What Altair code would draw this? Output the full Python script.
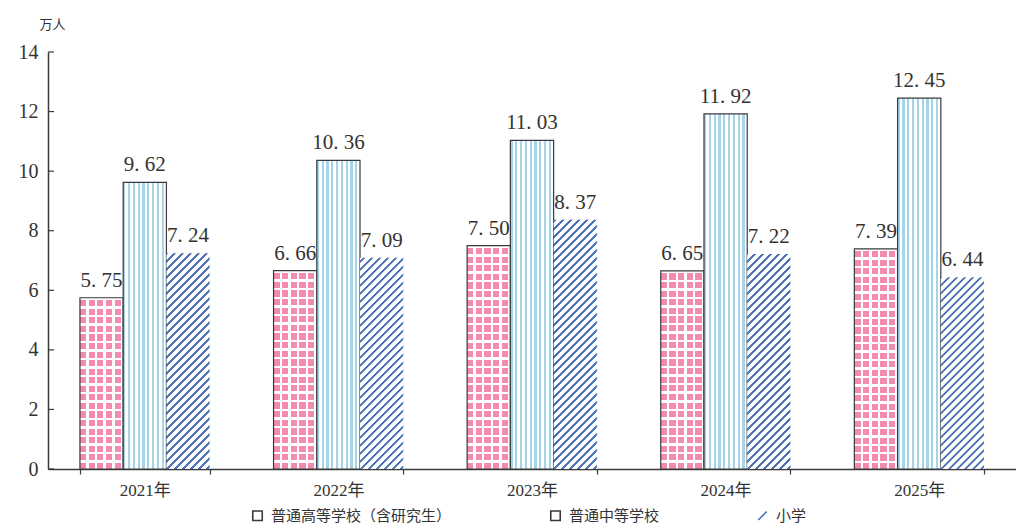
import math
import altair as alt
import pandas as pd

years = ["2021年", "2022年", "2023年", "2024年", "2025年"]
series = ["普通高等学校（含研究生）", "普通中等学校", "小学"]
higher = [5.75, 6.66, 7.50, 6.65, 7.39]
secondary = [9.62, 10.36, 11.03, 11.92, 12.45]
primary = [7.24, 7.09, 8.37, 7.22, 6.44]
y_ticks = [0, 2, 4, 6, 8, 10, 12, 14]

rows = []
for i, yr in enumerate(years):
    rows.append({"year": yr, "series": series[0], "value": higher[i]})
    rows.append({"year": yr, "series": series[1], "value": secondary[i]})
    rows.append({"year": yr, "series": series[2], "value": primary[i]})
df = pd.DataFrame(rows)
tick_df = pd.DataFrame({"t": y_ticks})

W, H = 968, 417
Y_MAX = 14
PAD_INNER = 0.33
step = W / len(years)
bar_w = step * (1 - PAD_INNER) / 3

PINK = "#f38ab0"
LBLUE = "#a6d5ea"
DBLUE = "#4f74ba"
EDGE = "#3a3a3a"
SERIF = "Liberation Serif, Noto Sans CJK SC"
CJK = "Noto Sans CJK SC"


def stripes(n, frac, c1, c2, x2, y2):
    stops = []
    for k in range(n):
        a = k / n
        b = (k + frac) / n
        c = (k + 1) / n
        stops += [
            {"offset": round(a, 5), "color": c1},
            {"offset": round(b, 5), "color": c1},
            {"offset": round(b, 5), "color": c2},
            {"offset": round(c, 5), "color": c2},
        ]
    return {"gradient": "linear", "x1": 0, "y1": 0, "x2": x2, "y2": y2, "stops": stops}


def diag_stripes(w, hs, y0, period, frac, c1, c2):
    """45-degree '/' stripes inside a w x hs box whose top sits y0 px below the plot top."""
    L = w + hs
    k = L / (w * w + hs * hs)
    s0 = y0 / period
    s1 = (y0 + L) / period
    eps = 0.35 / L
    stops = []
    m = math.floor(s0)
    while m <= s1:
        for sa, sb, col in ((m, m + frac, c1), (m + frac, m + 1, c2)):
            ta = min(1.0, max(0.0, (sa * period - y0) / L))
            tb = min(1.0, max(0.0, (sb * period - y0) / L))
            if tb > ta:
                a = ta if ta == 0 else min(tb, ta + eps)
                stops += [{"offset": round(a, 5), "color": col}, {"offset": round(tb, 5), "color": col}]
        m += 1
    return {"gradient": "linear", "x1": 0, "y1": 0, "x2": k * w, "y2": k * hs, "stops": stops}


x_enc = alt.X(
    "year:N",
    scale=alt.Scale(domain=years, paddingInner=PAD_INNER, paddingOuter=PAD_INNER / 2),
    axis=alt.Axis(
        title=None, labelAngle=0, labelFont=SERIF, labelFontSize=17, labelColor="#333",
        labelPadding=8, ticks=True, tickBand="extent", tickSize=5, tickWidth=1.2,
        tickColor=EDGE, domainColor=EDGE, domainWidth=1.5, grid=False,
    ),
)
xo_enc = alt.XOffset("series:N", scale=alt.Scale(domain=series, paddingInner=0, paddingOuter=0))
y_axis = alt.Axis(
    title="万人", titleAngle=0, titleX=4, titleY=-28, titleAlign="center",
    titleBaseline="middle", titleFont=CJK, titleFontSize=13, titleFontWeight="normal",
    titleColor="#333", values=y_ticks, labelFont=SERIF, labelFontSize=20,
    labelColor="#333", labelPadding=10, ticks=False, domainColor=EDGE,
    domainWidth=1.5, grid=False,
)
y_scale = alt.Scale(domain=[0, Y_MAX], nice=False)
y_enc = alt.Y("value:Q", scale=y_scale, axis=y_axis)

base = alt.Chart(df).encode(x=x_enc, xOffset=xo_enc, y=y_enc)
layers = []

# 普通高等学校: pink columns + white row overlay -> dotted grid
pink_cols = stripes(5, 0.72, PINK, "#ffffff", 1, 0)
layers.append(
    base.transform_filter(alt.datum.series == series[0]).mark_bar(fill=pink_cols, strokeWidth=0)
)
for i, yr in enumerate(years):
    h = higher[i] * H / Y_MAX
    n = max(1, round(h / 8.6))
    rows_grad = stripes(n, 0.28, "#ffffff", "rgba(255,255,255,0)", 0, 1)
    layers.append(
        base.transform_filter((alt.datum.series == series[0]) & (alt.datum.year == yr))
        .mark_bar(fill=rows_grad, stroke=EDGE, strokeWidth=1.2)
    )

# 普通中等学校: vertical light-blue stripes
v_grad = stripes(9, 0.45, LBLUE, "#ffffff", 1, 0)
layers.append(
    base.transform_filter(alt.datum.series == series[1]).mark_bar(fill=v_grad, stroke=EDGE, strokeWidth=1.2)
)

# 小学: diagonal blue stripes, computed per bar so they stay at 45 degrees
for i, yr in enumerate(years):
    h = primary[i] * H / Y_MAX
    y0 = H - h
    d_grad = diag_stripes(bar_w, h, y0, 8.0, 0.36, DBLUE, "#ffffff")
    layers.append(
        base.transform_filter((alt.datum.series == series[2]) & (alt.datum.year == yr))
        .mark_bar(fill=d_grad, strokeWidth=0)
    )

# value labels
layers.append(
    base.transform_calculate(label="replace(format(datum.value, '.2f'), '.', '. ')")
    .mark_text(dy=-7, baseline="bottom", font=SERIF, fontSize=21, color="#333")
    .encode(text="label:N")
)

# inward y ticks
layers.append(
    alt.Chart(tick_df).mark_rule(stroke=EDGE, strokeWidth=1.2).encode(
        y=alt.Y("t:Q", scale=y_scale),
        x=alt.value(0), x2=alt.value(6),
    )
)

# legend carrier
layers.append(
    alt.Chart(df).mark_point(opacity=0, filled=False).encode(
        x=x_enc, xOffset=xo_enc, y=y_enc,
        shape=alt.Shape(
            "series:N",
            scale=alt.Scale(domain=series, range=["square", "square", "M-0.9,0.9L0.9,-0.9"]),
            legend=alt.Legend(title=None),
        ),
        color=alt.Color(
            "series:N",
            scale=alt.Scale(domain=series, range=[EDGE, EDGE, DBLUE]),
            legend=alt.Legend(
                title=None, orient="none", direction="horizontal", legendX=202, legendY=456,
                columnPadding=95, labelFont=CJK, labelFontSize=15, labelColor="#333",
                labelLimit=0, symbolSize=90, symbolStrokeWidth=1.6,
                symbolFillColor="#ffffff", symbolOpacity=1, labelOffset=6,
            ),
        ),
    )
)

chart = (
    alt.layer(*layers)
    .properties(
        width=W, height=H,
        autosize=alt.AutoSizeParams(type="none"),
        padding={"left": 40, "top": 44, "right": 0, "bottom": 60},
        background="#ffffff",
    )
    .configure_view(stroke=None)
)

chart.save("out.html", embed_options={"renderer": "svg", "actions": False})
